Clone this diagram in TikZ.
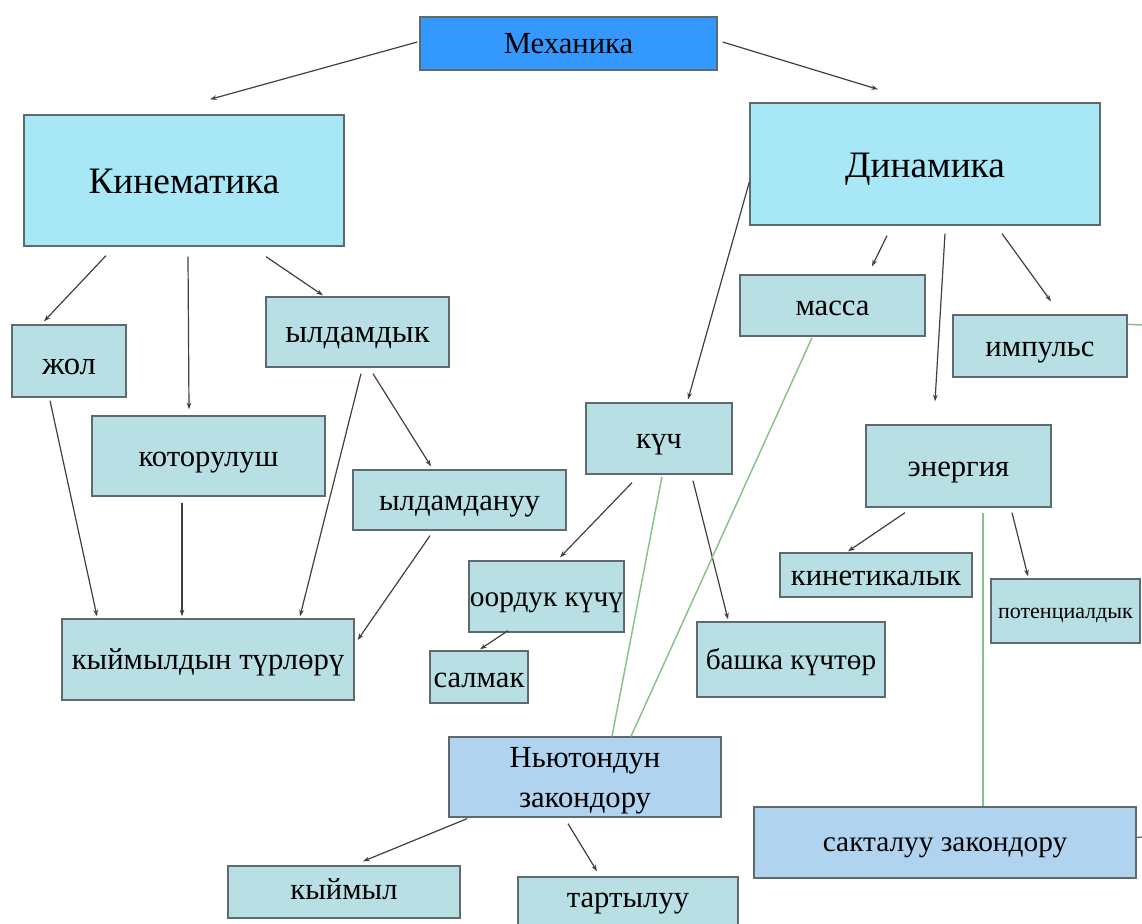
\documentclass[tikz,border=0pt]{standalone}
\usepackage{fontspec}
\setmainfont{Liberation Serif}
\usetikzlibrary{arrows.meta,calc}

\definecolor{mexblue}{HTML}{3399FF}
\definecolor{bigcyan}{HTML}{A8E7F5}
\definecolor{smallteal}{HTML}{B8E0E4}
\definecolor{lawblue}{HTML}{B0D4EF}
\definecolor{edgegray}{HTML}{5E6B6E}
\definecolor{linkgreen}{HTML}{86C386}

\begin{document}
\begin{tikzpicture}[x=0.75pt,y=-0.75pt,
    box/.style={draw=edgegray,line width=1pt,fill=smallteal,inner sep=0pt,
                text height=15pt,text depth=0pt,
                font=\fontsize{23}{27}\selectfont},
    bigbox/.style={box,fill=bigcyan,text height=19pt,font=\fontsize{28}{32}\selectfont},
    lawbox/.style={box,fill=lawblue,align=center,text height=45pt,
                   font=\fontsize{23}{30}\selectfont},
    arr/.style={draw=black!75,line width=0.9pt,-{Stealth[length=5pt,width=3.5pt]}},
    link/.style={draw=linkgreen,line width=1.1pt}]
    \useasboundingbox (0,0) rectangle (1142,924);
    \clip (0,0) rectangle (1142,924);

    % top and the two branches
    \node[box,fill=mexblue,text height=14.5pt,minimum width=222.75pt,minimum height=39.75pt] (mex) at (568.5,43.5) {Механика};
    \node[bigbox,minimum width=240pt,minimum height=98.25pt] (kin) at (184,180.5) {Кинематика};
    \node[bigbox,text height=20pt,minimum width=262.5pt,minimum height=91.5pt] (din) at (925,164) {Динамика};

    % kinematics side
    \node[box,text height=20pt,minimum width=85.5pt,minimum height=54pt,font=\fontsize{24.5}{28}\selectfont] (zhol) at (69,361) {жол};
    \node[box,minimum width=137.25pt,minimum height=52.5pt,font=\fontsize{24.5}{28}\selectfont] (yld) at (357.5,332) {ылдамдык};
    \node[box,minimum width=174.75pt,minimum height=60pt] (kot) at (208.5,456) {которулуш};
    \node[box,minimum width=159.75pt,minimum height=45pt] (yldn) at (459.5,500) {ылдамдануу};
    \node[box,minimum width=219pt,minimum height=60.75pt] (turl) at (208,659.5) {кыймылдын түрлөрү};

    % dynamics side
    \node[box,minimum width=138.75pt,minimum height=45.75pt] (massa) at (832.5,305.5) {масса};
    \node[box,minimum width=130.5pt,minimum height=46.5pt] (imp) at (1040,346) {импульс};
    \node[box,minimum width=109.5pt,minimum height=53.25pt] (kuch) at (659,438.5) {күч};
    \node[box,minimum width=138.75pt,minimum height=61.5pt] (energ) at (958.5,466) {энергия};
    \node[box,minimum width=116.25pt,minimum height=53.25pt,font=\fontsize{22}{26}\selectfont] (oord) at (546.5,596.5) {оордук күчү};
    \node[box,minimum width=73.5pt,minimum height=39pt] (salm) at (479,677) {салмак};
    \node[box,minimum width=141pt,minimum height=56.25pt,font=\fontsize{22}{26}\selectfont] (bash) at (791,659.5) {башка күчтөр};
    \node[box,minimum width=144pt,minimum height=33pt] (kinet) at (876,575) {кинетикалык};
    \node[box,text height=11.5pt,minimum width=111.75pt,minimum height=48pt,font=\fontsize{16.5}{20}\selectfont] (pot) at (1065.5,611) {потенциалдык};

    % laws
    \node[lawbox,minimum width=204pt,minimum height=60pt] (nyut) at (585,777) {Ньютондун\\закондору};
    \node[lawbox,align=left,text height=14pt,minimum width=286.5pt,minimum height=53.25pt,
          font=\fontsize{22}{26}\selectfont] (sakt) at (945,842.5) {сакталуу закондору};
    \node[box,text height=10.5pt,minimum width=174pt,minimum height=39pt] (kyim) at (344,892) {кыймыл};
    \node[box,text height=6pt,minimum width=165pt,minimum height=39.75pt] (tart) at (628,903.5) {тартылуу};

    \coordinate (impout) at (1142,325);
    \coordinate (saktout) at (1142,837);

    % arrows
    \draw[arr] ($(mex.west)+(-2,-1.5)$) -- ($(kin.north)+(26,-15)$);
    \draw[arr] ($(mex.east)+(5,-1.5)$) -- ($(din.north)+(-47,-13)$);
    \draw[arr] ($(kin.south)+(-78,9)$) -- ($(zhol.north)+(-25,-3)$);
    \draw[arr] ($(kin.south)+(4,10)$) -- ($(kot.north)+(-19.5,-6)$);
    \draw[arr] ($(kin.south)+(82,10)$) -- ($(yld.north)+(-34.5,-1)$);
    \draw[arr] ($(zhol.south)+(-19,3)$) -- ($(turl.north)+(-111,-2)$);
    \draw[arr] ($(kot.south)+(-26.5,6)$) -- ($(turl.north)+(-26,-2)$);
    \draw[arr] ($(yld.south)+(3.5,6)$) -- ($(turl.north)+(92,-2)$);
    \draw[arr] ($(yld.south)+(15.5,6)$) -- ($(yldn.north)+(-28.5,-3)$);
    \draw[arr] ($(yldn.south)+(-29.5,5)$) -- ($(turl.east)+(3,-19.5)$);

    \draw[arr] ($(din.west)+(0,18)$) -- ($(kuch.north)+(29,-3)$);
    \draw[arr] ($(din.south)+(-38,10)$) -- ($(massa.north)+(39.5,-8)$);
    \draw[arr] ($(din.south)+(20,8)$) -- ($(energ.north)+(-23.5,-23)$);
    \draw[arr] ($(din.south)+(77,8)$) -- ($(imp.north)+(11,-13)$);
    \draw[arr] ($(kuch.south)+(-27,8)$) -- ($(oord.north)+(13.5,-3)$);
    \draw[arr] ($(kuch.south)+(34,6)$) -- ($(bash.north)+(-63,-2)$);
    \draw[arr] ($(oord.south)+(-38.5,-2)$) -- ($(salm.north)+(1,-1)$);
    \draw[arr] ($(energ.south)+(-53.5,5)$) -- ($(kinet.north)+(-28,-1)$);
    \draw[arr] ($(energ.south)+(53.5,5)$) -- ($(pot.north)+(-37.5,-2)$);
    \draw[arr] ($(nyut.south)+(-118,1)$) -- ($(kyim.north)+(19,-4)$);
    \draw[arr] ($(nyut.south)+(-17,6)$) -- ($(tart.north)+(-31,-5)$);

    % green links to the laws
    \draw[link] ($(massa.south)+(-20.5,1)$) -- ($(nyut.north)+(46,0)$);
    \draw[link] ($(kuch.south)+(3,2)$) -- ($(nyut.north)+(27,0)$);
    \draw[link] ($(energ.south)+(24.5,5)$) -- ($(sakt.north)+(38,0)$);
    \draw[link] ($(imp.north east)+(0,10)$) -- (impout);
    \draw[draw=black!60,line width=1pt] ($(sakt.east)+(0,-5)$) -- (saktout);
\end{tikzpicture}
\end{document}
